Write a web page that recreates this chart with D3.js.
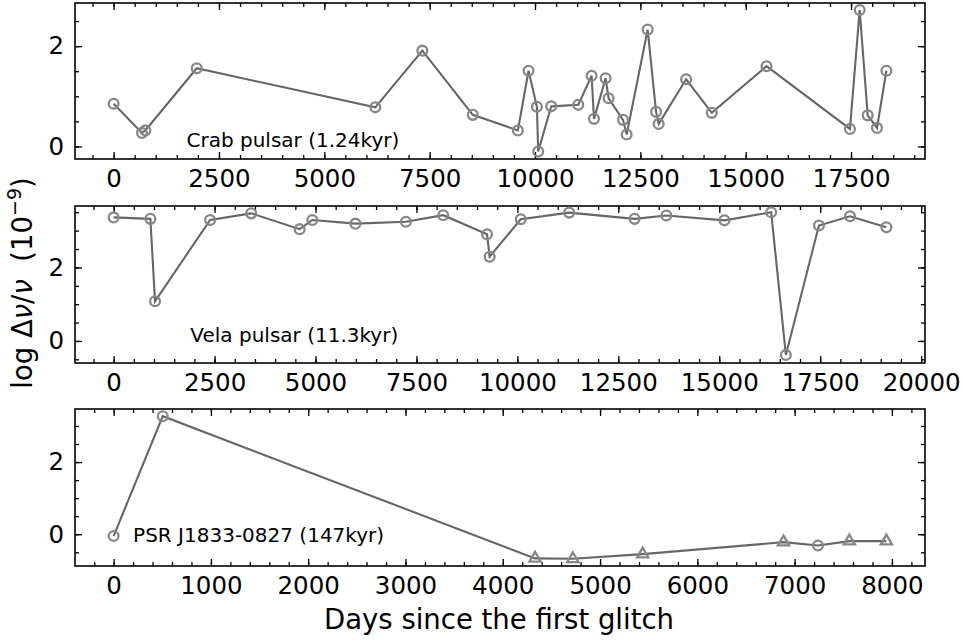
<!DOCTYPE html>
<html>
<head>
<meta charset="utf-8">
<script src="https://cdn.jsdelivr.net/npm/d3@7"></script>
<style>
  body { margin: 0; background: #fff; }
  svg { font-family: "DejaVu Sans", sans-serif; }
</style>
</head>
<body>
<svg id="chart" width="963" height="641"></svg>
<script>
// Crab pulsar glitches: days since first glitch, log(dnu/nu) in 1e-9
var crabDays = [0, 673, 753, 1972, 6210, 7327, 8524, 9594, 9847, 10045, 10076, 10385, 11027, 11343, 11400,
                11676, 11747, 12089, 12175, 12674, 12873, 12935, 13586, 14195, 15494, 17474, 17705, 17895, 18116, 18339]
var crabLog = [0.85, 0.27, 0.32, 1.56, 0.78, 1.91, 0.63, 0.32, 1.51, 0.79, -0.10, 0.80, 0.83, 1.41, 0.55,
               1.36, 0.96, 0.53, 0.24, 2.33, 0.69, 0.45, 1.34, 0.67, 1.60, 0.35, 2.72, 0.62, 0.37, 1.51]

// Vela pulsar
var velaDays = [0, 910, 1025, 2390, 3407, 4607, 4921, 5988, 7238, 8164, 9248, 9313, 10083, 11283,
                12903, 13690, 15129, 16286, 16650, 17469, 18238, 19139]
var velaLog = [3.36, 3.32, 1.08, 3.29, 3.47, 3.04, 3.29, 3.19, 3.24, 3.42, 2.90, 2.29, 3.31, 3.49,
               3.32, 3.41, 3.28, 3.50, -0.38, 3.14, 3.39, 3.09]

// PSR J1833-0827
var jDays = [0, 505, 4332, 4720, 5438, 6886, 7240, 7562, 7943]
var jLog = [-0.05, 3.27, -0.67, -0.68, -0.55, -0.22, -0.31, -0.19, -0.19]
var jMarker = ["circle", "circle", "triangle", "triangle", "triangle", "triangle", "circle", "triangle", "triangle"]

var labels = ["Crab pulsar (1.24kyr)", "Vela pulsar (11.3kyr)", "PSR J1833-0827 (147kyr)"]
var labelPos = [[1730, -0.02], [1900, -0.04], [200, -0.22]]

var panels = [
    {days: crabDays, vals: crabLog, marks: null, top: 3, bottom: 159,
     xdom: [-916, 19255], ydom: [-0.25, 2.86], xmaj: 2500, xmin: 500},
    {days: velaDays, vals: velaLog, marks: null, top: 206, bottom: 363,
     xdom: [-957, 20096], ydom: [-0.6, 3.67], xmaj: 2500, xmin: 500},
    {days: jDays, vals: jLog, marks: jMarker, top: 409, bottom: 566,
     xdom: [-397, 8340], ydom: [-0.88, 3.47], xmaj: 1000, xmin: 200}
]

var dims = {left: 75, right: 925}
var svg = d3.select("#chart")

var lineColor = "#666666"
var markColor = "#878787"

panels.forEach(function(p, k){
    var xScale = d3.scaleLinear().domain(p.xdom).range([dims.left, dims.right])
    var yScale = d3.scaleLinear().domain(p.ydom).range([p.bottom, p.top])

    var xMajor = d3.range(Math.ceil(p.xdom[0] / p.xmaj) * p.xmaj, p.xdom[1], p.xmaj)
    var xMinor = d3.range(Math.ceil(p.xdom[0] / p.xmin) * p.xmin, p.xdom[1], p.xmin)
    var yMajor = d3.range(Math.ceil(p.ydom[0] / 2) * 2, p.ydom[1], 2)
    var yMinor = d3.range(Math.ceil(p.ydom[0] / 0.5) * 0.5, p.ydom[1], 0.5)

    var g = svg.append("g")

    // bottom ticks with labels
    g.append("g").attr("transform", `translate(0,${p.bottom})`)
        .call(d3.axisBottom(xScale).tickValues(xMinor).tickFormat("").tickSizeInner(-4).tickSizeOuter(0))
    g.append("g").attr("class", "xlab").attr("transform", `translate(0,${p.bottom})`)
        .call(d3.axisBottom(xScale).tickValues(xMajor).tickFormat(d3.format("d")).tickSizeInner(-7).tickSizeOuter(0).tickPadding(11))
    // top ticks
    g.append("g").attr("transform", `translate(0,${p.top})`)
        .call(d3.axisTop(xScale).tickValues(xMinor).tickFormat("").tickSizeInner(-4).tickSizeOuter(0))
    g.append("g").attr("transform", `translate(0,${p.top})`)
        .call(d3.axisTop(xScale).tickValues(xMajor).tickFormat("").tickSizeInner(-7).tickSizeOuter(0))
    // left
    g.append("g").attr("transform", `translate(${dims.left},0)`)
        .call(d3.axisLeft(yScale).tickValues(yMinor).tickFormat("").tickSizeInner(-4).tickSizeOuter(0))
    g.append("g").attr("class", "ylab").attr("transform", `translate(${dims.left},0)`)
        .call(d3.axisLeft(yScale).tickValues(yMajor).tickFormat(d3.format("d")).tickSizeInner(-7).tickSizeOuter(0).tickPadding(11))
    // right
    g.append("g").attr("transform", `translate(${dims.right},0)`)
        .call(d3.axisRight(yScale).tickValues(yMinor).tickFormat("").tickSizeInner(-4).tickSizeOuter(0))
    g.append("g").attr("transform", `translate(${dims.right},0)`)
        .call(d3.axisRight(yScale).tickValues(yMajor).tickFormat("").tickSizeInner(-7).tickSizeOuter(0))

    g.selectAll(".domain").remove()
    g.selectAll(".tick line").attr("stroke", "#000").attr("stroke-width", 1.3)
    g.selectAll(".tick text").attr("font-size", 24.5).attr("fill", "#000")
        .attr("font-family", "DejaVu Sans")

    // frame
    g.append("rect")
        .attr("x", dims.left).attr("y", p.top)
        .attr("width", dims.right - dims.left).attr("height", p.bottom - p.top)
        .attr("fill", "none").attr("stroke", "#000").attr("stroke-width", 1.6)

    var pts = p.days.map((d, i) => [d, p.vals[i]])

    var line = d3.line().x(d => xScale(d[0])).y(d => yScale(d[1]))
    g.append("path").datum(pts)
        .attr("d", line)
        .attr("fill", "none")
        .attr("stroke", lineColor)
        .attr("stroke-width", 2.1)

    var tri = d3.symbol().type(d3.symbolTriangle).size(55)
    g.selectAll(".mk").data(pts).enter()
        .append("path")
        .attr("transform", d => `translate(${xScale(d[0])},${yScale(d[1])})`)
        .attr("d", (d, i) => {
            if (p.marks && p.marks[i] == "triangle") {
                return tri()
            }
            return d3.symbol().type(d3.symbolCircle).size(Math.PI * 4.9 * 4.9)()
        })
        .attr("fill", "none")
        .attr("stroke", markColor)
        .attr("stroke-width", 2.3)

    g.append("text")
        .attr("x", xScale(labelPos[k][0]))
        .attr("y", yScale(labelPos[k][1]))
        .attr("font-size", 20)
        .attr("fill", "#000")
        .text(labels[k])
})

// axis titles
svg.append("text")
    .attr("x", 499)
    .attr("y", 629)
    .attr("text-anchor", "middle")
    .attr("font-size", 27.5)
    .text("Days since the first glitch")

var ylab = svg.append("text")
    .attr("transform", "translate(32,283) rotate(-90)")
    .attr("text-anchor", "middle")
    .attr("font-size", 27.5)
ylab.append("tspan").text("log Δ")
ylab.append("tspan").attr("font-style", "italic").text("ν")
ylab.append("tspan").text("/")
ylab.append("tspan").attr("font-style", "italic").text("ν")
ylab.append("tspan").text("\u00a0\u00a0(10")
ylab.append("tspan").attr("dy", -11).attr("font-size", 19).text("−9")
ylab.append("tspan").attr("dy", 11).text(")")
</script>
</body>
</html>
